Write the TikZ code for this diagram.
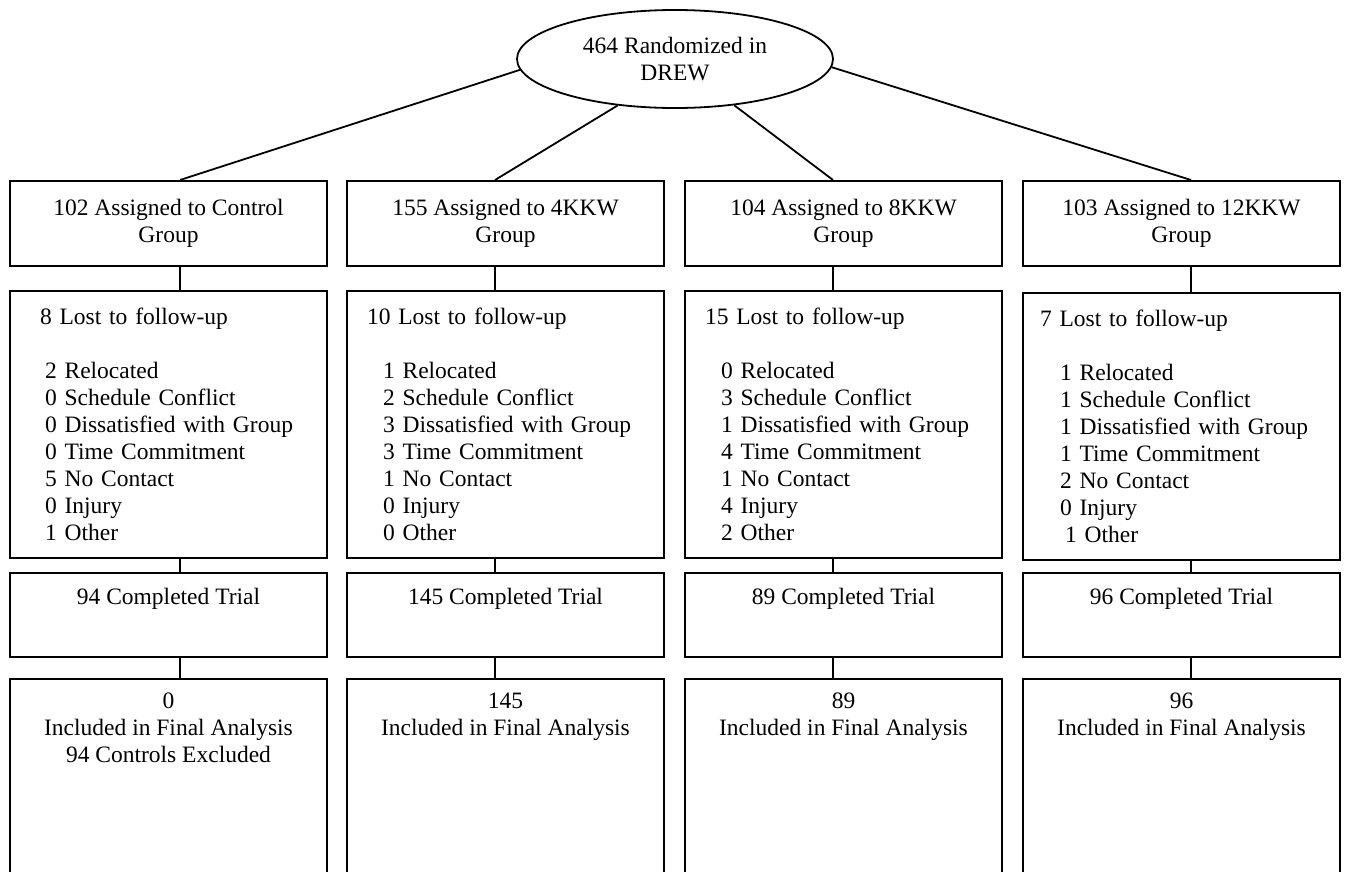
\documentclass[tikz,border=0pt]{standalone}
\usepackage{fontspec}
\setmainfont{Liberation Serif}
\usepackage{tikz}
\usetikzlibrary{positioning,shapes.geometric}

\tikzset{
  every node/.style={font=\fontsize{23.5}{27}\selectfont, inner sep=0pt},
  trait/.style={line width=1.8pt},
  racine/.style={ellipse, draw, trait, minimum width=316pt, minimum height=98pt, align=center},
  groupe/.style={draw, trait, minimum width=317pt, minimum height=85pt, align=center, anchor=north},
  perdu/.style={draw, trait, minimum width=317pt, minimum height=267pt, text width=317pt, align=left, anchor=north},
  fini/.style={draw, trait, minimum width=317pt, minimum height=84pt, align=center, anchor=north},
  analyse/.style={draw, trait, minimum width=317pt, minimum height=300pt, anchor=north},
}

\begin{document}
\begin{tikzpicture}[x=1pt, y=-1pt]
		\useasboundingbox (0,0) rectangle (1346,871);
		\clip (0,0) rectangle (1346,871);

		% Randomisation
		\node[racine] (rand) at (675,59) {464 Randomized in\\DREW};

		% Groupes assignés
		\node[groupe] (g1) at (168.5,180) {102 Assigned to Control\\Group};
		\node[groupe] (g2) at (505.5,180) {155 Assigned to 4KKW\\Group};
		\node[groupe] (g3) at (843.5,180) {104 Assigned to 8KKW\\Group};
		\node[groupe] (g4) at (1181.5,180) {103 Assigned to 12KKW\\Group};

		% Perdus de vue
		\node[perdu] (p1) at (168.5,290) {\hspace*{30pt}8 Lost to follow-up\\[27pt]
			\hspace*{35pt}2 Relocated\\ \hspace*{35pt}0 Schedule Conflict\\ \hspace*{35pt}0 Dissatisfied with Group\\
			\hspace*{35pt}0 Time Commitment\\ \hspace*{35pt}5 No Contact\\ \hspace*{35pt}0 Injury\\ \hspace*{35pt}1 Other};
		\node[perdu] (p2) at (505.5,290) {\hspace*{20pt}10 Lost to follow-up\\[27pt]
			\hspace*{36pt}1 Relocated\\ \hspace*{36pt}2 Schedule Conflict\\ \hspace*{36pt}3 Dissatisfied with Group\\
			\hspace*{36pt}3 Time Commitment\\ \hspace*{36pt}1 No Contact\\ \hspace*{36pt}0 Injury\\ \hspace*{36pt}0 Other};
		\node[perdu] (p3) at (843.5,290) {\hspace*{20pt}15 Lost to follow-up\\[27pt]
			\hspace*{36pt}0 Relocated\\ \hspace*{36pt}3 Schedule Conflict\\ \hspace*{36pt}1 Dissatisfied with Group\\
			\hspace*{36pt}4 Time Commitment\\ \hspace*{36pt}1 No Contact\\ \hspace*{36pt}4 Injury\\ \hspace*{36pt}2 Other};
		\node[perdu] (p4) at (1181.5,292) {\hspace*{17pt}7 Lost to follow-up\\[27pt]
			\hspace*{37pt}1 Relocated\\ \hspace*{37pt}1 Schedule Conflict\\ \hspace*{37pt}1 Dissatisfied with Group\\
			\hspace*{37pt}1 Time Commitment\\ \hspace*{37pt}2 No Contact\\ \hspace*{37pt}0 Injury\\ \hspace*{42pt}1 Other};

		% Essai terminé
		\node[fini] (f1) at (168.5,572) {94 Completed Trial\\[10pt]\mbox{}};
		\node[fini] (f2) at (505.5,572) {145 Completed Trial\\[10pt]\mbox{}};
		\node[fini] (f3) at (843.5,572) {89 Completed Trial\\[10pt]\mbox{}};
		\node[fini] (f4) at (1181.5,572) {96 Completed Trial\\[10pt]\mbox{}};

		% Analyse finale (boîtes coupées en bas)
		\node[analyse] (a1) at (168.5,678) {};
		\node[analyse] (a2) at (505.5,678) {};
		\node[analyse] (a3) at (843.5,678) {};
		\node[analyse] (a4) at (1181.5,678) {};
		\node[align=center, below=15pt of a1.north] (t1) {0\\Included in Final Analysis\\94 Controls Excluded};
		\node[align=center, below=15pt of a2.north] (t2) {145\\Included in Final Analysis};
		\node[align=center, below=15pt of a3.north] (t3) {89\\Included in Final Analysis};
		\node[align=center, below=15pt of a4.north] (t4) {96\\Included in Final Analysis};

		% Liaisons
		\draw[trait] (rand.184) -- ([xshift=11.5pt]g1.north);
		\draw[trait] (rand.219) -- ([xshift=-10.5pt]g2.north);
		\draw[trait] (rand.322) -- ([xshift=-10.5pt]g3.north);
		\draw[trait] (rand.357) -- ([xshift=9.5pt]g4.north);
		\foreach \i/\dx in {1/11.5,2/-10.5,3/-10.5,4/9.5} {
			\draw[trait] ([xshift=\dx pt]g\i.south) -- ([xshift=\dx pt]p\i.north);
			\draw[trait] ([xshift=\dx pt]p\i.south) -- ([xshift=\dx pt]f\i.north);
			\draw[trait] ([xshift=\dx pt]f\i.south) -- ([xshift=\dx pt]a\i.north);
		}
	\end{tikzpicture}
\end{document}
